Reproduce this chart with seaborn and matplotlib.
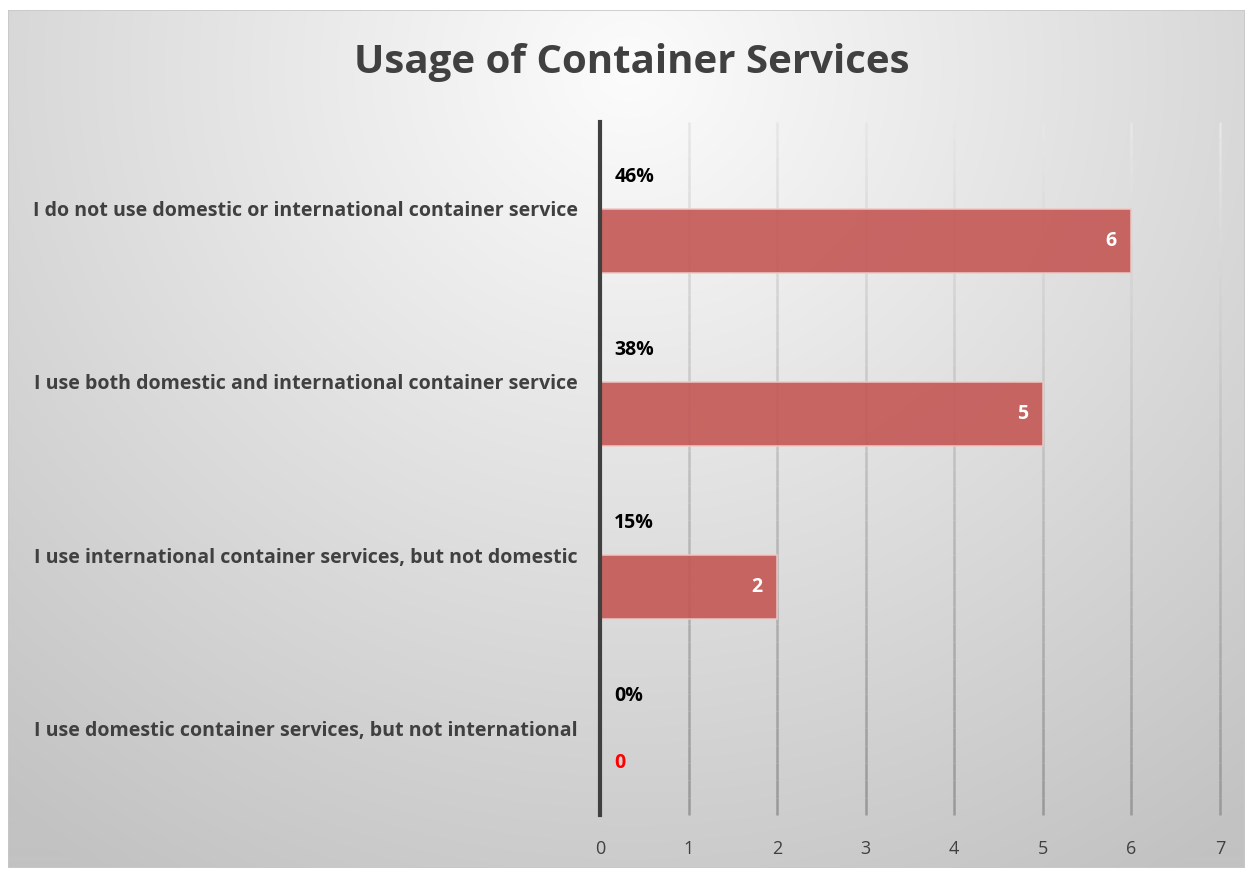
import numpy as np
import pandas as pd
import matplotlib
matplotlib.use("Agg")
import matplotlib.pyplot as plt
import seaborn as sns
from matplotlib.patches import Rectangle

# data
categories = [
    "I do not use domestic or international container service",
    "I use both domestic and international container service",
    "I use international container services, but not domestic",
    "I use domestic container services, but not international",
]
counts = [6, 5, 2, 0]
pct_labels = ["46%", "38%", "15%", "0%"]
x_ticks = [0, 1, 2, 3, 4, 5, 6, 7]

df = pd.DataFrame({"Category": categories, "Count": counts})

sns.set_theme(style="white")
plt.rcParams["font.family"] = ["Open Sans", "DejaVu Sans"]

W, H = 1251, 871
fig = plt.figure(figsize=(W / 100, H / 100), dpi=100)
fig.patch.set_facecolor("white")

# radial grey background like the office chart area
bg = fig.add_axes([0, 0, 1, 1], zorder=-2)
yy, xx = np.mgrid[0:H, 0:W]
r = np.hypot(xx - 630, (yy - 70) * 1.05)
shade = 252 - 58 * np.clip(r / 1000, 0, 1)
img = np.dstack([shade] * 3) / 255.0
bg.imshow(img, extent=[0, W, H, 0], aspect="auto")
bg.add_patch(Rectangle((8, 10), 1237, 858, fill=False, edgecolor="#c8c8c8", lw=1.2))
for rx, ry, rw, rh in [(0, 0, W, 10), (0, 868, W, 3), (0, 0, 8, H), (1245, 0, 6, H)]:
    bg.add_patch(Rectangle((rx, ry), rw, rh, color="white", lw=0))
bg.set_xlim(0, W)
bg.set_ylim(H, 0)
bg.axis("off")

ax = fig.add_axes([600 / W, 1 - 815 / H, 620 / W, (815 - 122) / H])
ax.set_facecolor("none")

sns.barplot(data=df, y="Category", x="Count", orient="h", ax=ax,
            color="#c35754", saturation=1, alpha=0.9, width=0.37,
            edgecolor="#f0c8c6", linewidth=1.2, zorder=3)
# bars sit in the lower half of each category band
for p in ax.patches:
    p.set_y(p.get_y() + 0.185)

ax.set_xlim(0, 7)
ax.set_ylim(3.5, -0.5)
ax.set_xticks(x_ticks)
ax.set_xticklabels([str(t) for t in x_ticks], fontsize=13, color="#404040")
ax.tick_params(axis="x", length=0, pad=18)
ax.tick_params(axis="y", length=0, pad=16)
ax.set_yticks(range(len(categories)))
ax.set_yticklabels(categories, fontsize=14.1, fontweight="bold", color="#404040")
ax.set_xlabel("")
ax.set_ylabel("")

# gridlines fading from light at the top to darker at the bottom
ys = np.linspace(-0.5, 3.5, 41)
for t in x_ticks[1:]:
    shades = np.linspace(0.9, 0.6, len(ys) - 1)
    ax.vlines([t] * (len(ys) - 1), ys[:-1], ys[1:],
              colors=[(s, s, s) for s in shades], lw=1.8, zorder=1,
              clip_on=False)
for s in ["top", "right", "bottom"]:
    ax.spines[s].set_visible(False)
ax.spines["left"].set_color("#404040")
ax.spines["left"].set_linewidth(3)
ax.spines["left"].set_zorder(4)

for i, (c, p) in enumerate(zip(counts, pct_labels)):
    ax.text(0.16, i - 0.185, p, ha="left", va="center", fontsize=14,
            fontweight="bold", color="black")
    if c > 0:
        ax.text(c - 0.17, i + 0.185, str(c), ha="right", va="center", fontsize=14,
                fontweight="bold", color="white", zorder=5)
    else:
        ax.text(0.16, i + 0.2, str(c), ha="left", va="center", fontsize=14,
                fontweight="bold", color="red", zorder=5)

fig.text(632 / W, 1 - 63 / H, "Usage of Container Services", ha="center",
         va="center", fontsize=29, fontweight="bold", color="#404040")

fig.savefig("out.png", dpi=100)
